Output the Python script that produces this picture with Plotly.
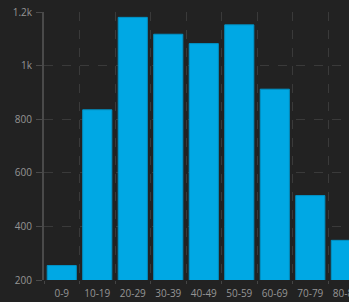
import plotly.graph_objects as go

categories = ["0-9", "10-19", "20-29", "30-39", "40-49", "50-59", "60-69", "70-79", "80-89"]
counts = [254, 835, 1180, 1117, 1082, 1152, 912, 515, 348]
y_tick_vals = [200, 400, 600, 800, 1000, 1200]
y_tick_text = ["200", "400", "600", "800", "1k", "1.2k"]

fig = go.Figure(
    go.Bar(
        x=categories,
        y=counts,
        marker=dict(color="#00a8e4", line=dict(color="#0092c6", width=1)),
    )
)

fig.update_layout(
    width=349,
    height=302,
    margin=dict(l=44, r=0, t=12, b=22, autoexpand=False),
    paper_bgcolor="#222222",
    plot_bgcolor="#222222",
    bargap=0.18,
    showlegend=False,
    font=dict(family="Open Sans", size=10, color="#959595"),
)

fig.update_xaxes(
    type="category",
    range=[-0.5, 8.09],
    tickson="boundaries",
    tickangle=0,
    automargin=False,
    ticklabeloverflow="allow",
    showgrid=True,
    gridcolor="#3a3a3a",
    griddash="dash",
    gridwidth=1,
    ticks="outside",
    ticklen=3,
    tickcolor="#444444",
    ticklabelstandoff=6,
    showline=False,
    zeroline=False,
)

fig.update_yaxes(
    range=[200, 1200],
    tickvals=y_tick_vals,
    ticktext=y_tick_text,
    automargin=False,
    ticklabeloverflow="allow",
    showgrid=True,
    gridcolor="#3a3a3a",
    griddash="dash",
    gridwidth=1,
    ticks="outside",
    ticklen=6,
    tickcolor="#4a4a4a",
    ticklabelstandoff=2,
    showline=True,
    linecolor="#4a4a4a",
    linewidth=2,
    zeroline=False,
)

fig.write_html(
    "out.html",
    config={"displayModeBar": False},
    post_script="document.body.style.margin='0';",
)
